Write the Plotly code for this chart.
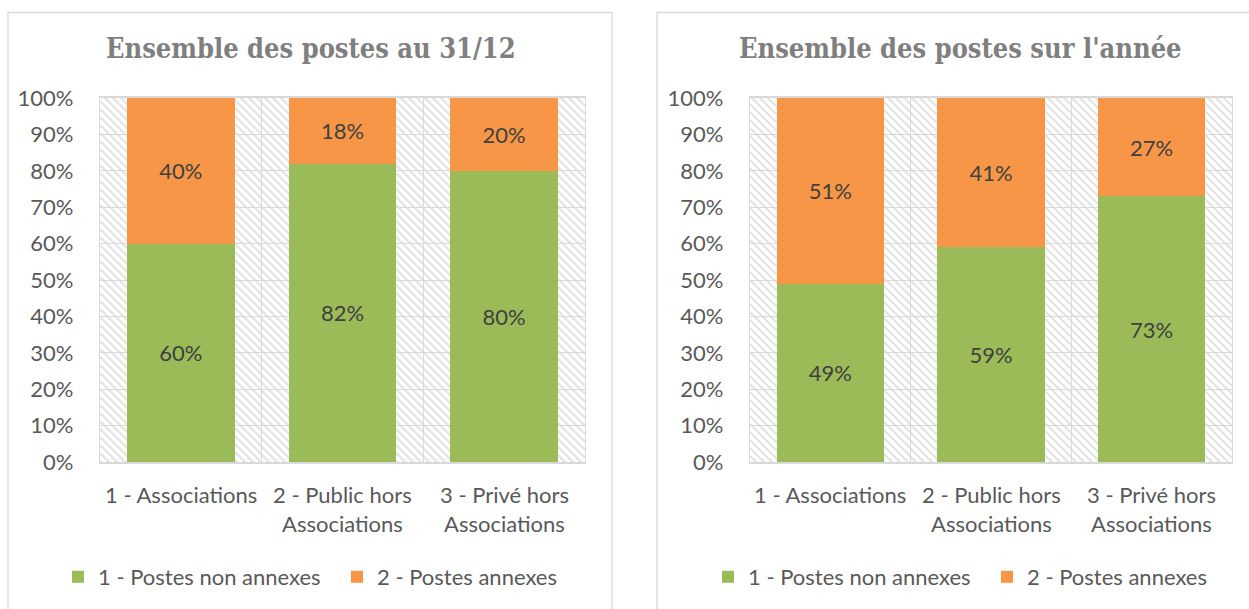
import plotly.graph_objects as go

# ---------------- data ----------------
categories = ["1 - Associations", "2 - Public hors Associations", "3 - Privé hors Associations"]
category_label_lines = [["1 - Associations"], ["2 - Public hors", "Associations"], ["3 - Privé hors", "Associations"]]
series_names = ["1 - Postes non annexes", "2 - Postes annexes"]
titles = ["Ensemble des postes au 31/12", "Ensemble des postes sur l'année"]
non_annexes_3112 = [60, 82, 80]
annexes_3112 = [40, 18, 20]
non_annexes_annee = [49, 59, 73]
annexes_annee = [51, 41, 27]
y_tick_values = [0, 10, 20, 30, 40, 50, 60, 70, 80, 90, 100]

# ---------------- style ----------------
W, H = 1249, 609
GREEN = "#9BBB59"
ORANGE = "#F79646"
GRID = "#d9d9d9"
TXT = "#595959"
LBL = "#404040"
FONT = "Lato"
FS = 22

# pixel geometry of the two plot areas
plots = [
    dict(x0=100, x1=585, y0=98, y1=462, panel=(8, 612), center=311, legx=58),
    dict(x0=750, x1=1232, y0=98, y1=462, panel=(657, 1263), center=960, legx=708),
]

fig = go.Figure()

datasets = [(non_annexes_3112, annexes_3112), (non_annexes_annee, annexes_annee)]
for i, (g, o) in enumerate(datasets):
    xa = "x" if i == 0 else "x2"
    ya = "y" if i == 0 else "y2"
    lg = "legend" if i == 0 else "legend2"
    for vals, name, col in [(g, series_names[0], GREEN), (o, series_names[1], ORANGE)]:
        fig.add_trace(go.Bar(
            x=categories, y=vals, name=name, marker=dict(color=col, line=dict(width=0)),
            text=[f"{v}%" for v in vals], textposition="inside", insidetextanchor="middle",
            textangle=0, constraintext="none",
            textfont=dict(family=FONT, size=FS, color=LBL),
            xaxis=xa, yaxis=ya, legend=lg, hoverinfo="skip",
        ))

shapes = []
annotations = []
for i, p in enumerate(plots):
    xr = "x" if i == 0 else "x2"
    yr = "y" if i == 0 else "y2"
    pw = p["x1"] - p["x0"]
    ph = p["y1"] - p["y0"]
    # hatch pattern (downward diagonal), drawn below the gridlines
    step = 8
    segs = []
    c = -pw
    while c < ph + step:
        xa0, ya0 = 0, c
        xa1, ya1 = pw, pw + c
        dx0 = -0.5 + xa0 * 3 / pw
        dy0 = 100 - ya0 * 100 / ph
        dx1 = -0.5 + xa1 * 3 / pw
        dy1 = 100 - ya1 * 100 / ph
        segs.append(f"M{dx0:.4f},{dy0:.4f}L{dx1:.4f},{dy1:.4f}")
        c += step
    shapes.append(dict(type="path", path="".join(segs), xref=xr, yref=yr, layer="below",
                       line=dict(color="#e4e4e4", width=2.2)))
    # chart panel border
    shapes.append(dict(type="rect", xref="paper", yref="paper",
                       x0=p["panel"][0] / W, x1=p["panel"][1] / W, y0=-0.05, y1=1 - 12.5 / H,
                       line=dict(color=GRID, width=1.3), fillcolor="rgba(0,0,0,0)", layer="below"))
    # title
    annotations.append(dict(text=f"<b>{titles[i]}</b>", xref="paper", yref="paper",
                            x=p["center"] / W, y=1 - 48 / H, xanchor="center", yanchor="middle",
                            showarrow=False,
                            font=dict(family="DejaVu Serif Condensed, DejaVu Serif", size=27, color="#7f7f7f")))
    # category labels
    for cat, lines in zip(categories, category_label_lines):
        for k, line in enumerate(lines):
            annotations.append(dict(text=line, xref=xr, yref="paper", x=cat,
                                    y=1 - (494 + 29 * k) / H, xanchor="center", yanchor="middle",
                                    showarrow=False, font=dict(family=FONT, size=FS, color=TXT)))

def xaxis(i, p):
    return dict(domain=[p["x0"] / W, p["x1"] / W], anchor="y" if i == 0 else "y2",
                type="category", categoryorder="array", categoryarray=categories,
                range=[-0.5, 2.5], showticklabels=False, ticks="", tickson="boundaries",
                showgrid=True, gridcolor=GRID, gridwidth=1.3, automargin=False,
                showline=True, linecolor=GRID, linewidth=1.6, mirror=True, fixedrange=True)

def yaxis(i, p):
    return dict(domain=[1 - p["y1"] / H, 1 - p["y0"] / H], anchor="x" if i == 0 else "x2",
                range=[0, 100], tickmode="array", tickvals=y_tick_values,
                ticktext=[f"{v}%" for v in y_tick_values],
                showgrid=True, gridcolor=GRID, gridwidth=1.3, zeroline=False,
                showline=True, linecolor=GRID, linewidth=1.3, mirror=True, ticks="",
                ticklabelstandoff=21, automargin=False,
                tickfont=dict(family=FONT, size=FS, color=TXT), fixedrange=True)

leg_common = dict(orientation="h", xanchor="left", yanchor="middle", y=1 - 577 / H,
                  font=dict(family=FONT, size=FS, color=TXT), bgcolor="rgba(0,0,0,0)",
                  traceorder="normal", itemclick=False, itemdoubleclick=False,
                  entrywidth=234)

fig.update_layout(
    width=W, height=H, autosize=False,
    margin=dict(l=0, r=0, t=0, b=0, pad=0, autoexpand=False),
    paper_bgcolor="white", plot_bgcolor="white",
    barmode="stack", bargap=1 / 3,
    xaxis=xaxis(0, plots[0]), yaxis=yaxis(0, plots[0]),
    xaxis2=xaxis(1, plots[1]), yaxis2=yaxis(1, plots[1]),
    legend=dict(x=plots[0]["legx"] / W, **leg_common),
    legend2=dict(x=plots[1]["legx"] / W, **leg_common),
    shapes=shapes, annotations=annotations,
    font=dict(family=FONT, color=TXT),
)

fig.write_html("out.html", config={"displayModeBar": False},
               post_script="document.body.style.margin='0';document.body.style.overflow='hidden';")
